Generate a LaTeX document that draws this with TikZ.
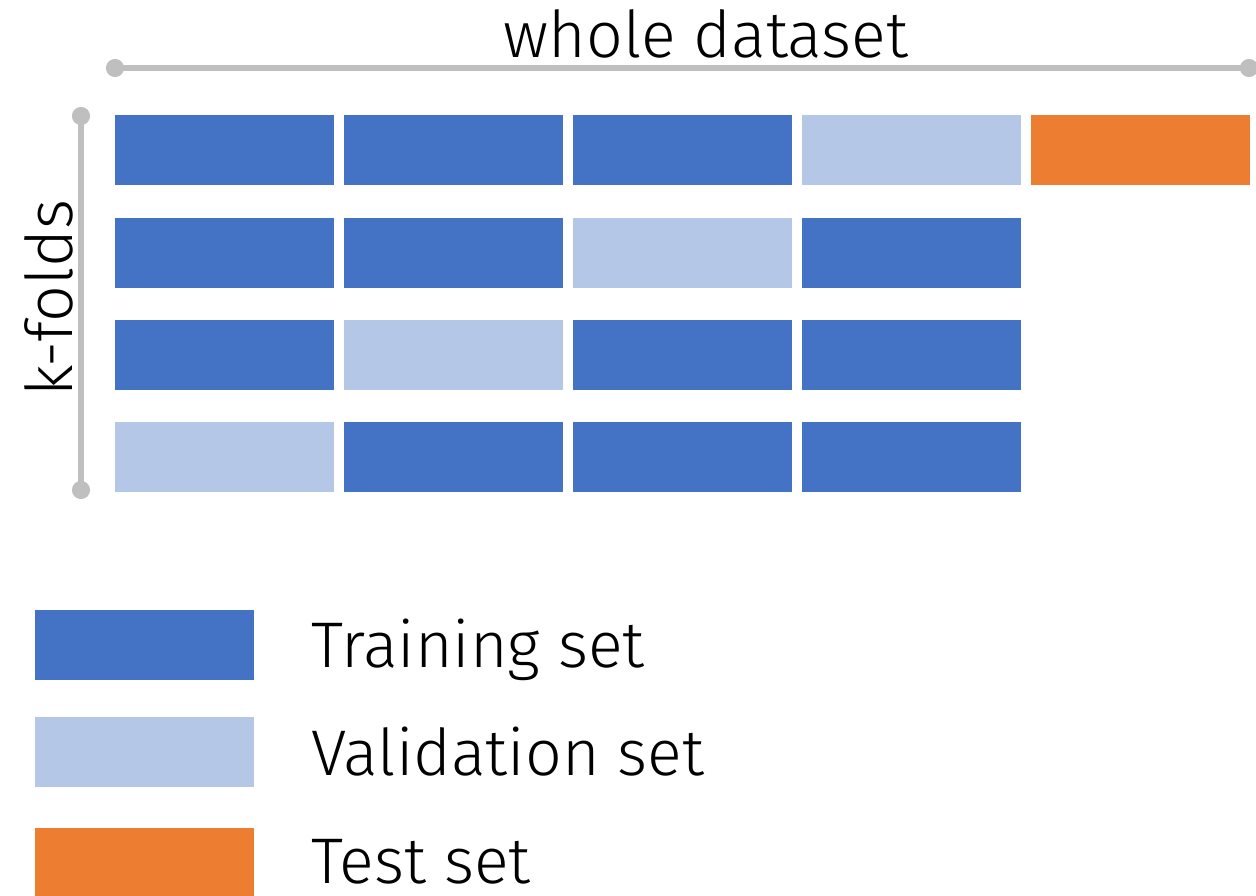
\documentclass[tikz,border=0pt]{standalone}
\usepackage{fontspec}
\setmainfont{Fira Sans Light}
\usepackage{tikz}
\usetikzlibrary{positioning, arrows.meta}
\definecolor{trainblue}{HTML}{4472C4}
\definecolor{validblue}{HTML}{B4C7E7}
\definecolor{testorange}{HTML}{ED7D31}
\definecolor{dimgray}{HTML}{BFBFBF}
\tikzset{
  fold/.style = {rectangle, minimum width=219pt, minimum height=70pt, inner sep=0pt, outer sep=0pt},
  train/.style = {fold, fill=trainblue},
  valid/.style = {fold, fill=validblue},
  test/.style = {fold, fill=testorange},
  dimline/.style = {line width=6pt, draw=dimgray, {Circle[length=18pt,fill=dimgray]}-{Circle[length=18pt,fill=dimgray]}},
  label/.style = {inner sep=0pt, font=\fontsize{64.5}{78}\selectfont}
}

\begin{document}
\begin{tikzpicture}[x=1pt, y=-1pt, node distance=10pt]
\useasboundingbox (0,0) rectangle (1256,896);

\node [train] (a1) at (224.5,150) {};
\node [train] (a2) [right=of a1] {};
\node [train] (a3) [right=of a2] {};
\node [valid] (a4) [right=of a3] {};
\node [test] (a5) [right=of a4] {};

\node [train] (b1) at (224.5,253) {};
\node [train] (b2) [right=of b1] {};
\node [valid] (b3) [right=of b2] {};
\node [train] (b4) [right=of b3] {};

\node [train] (c1) at (224.5,355) {};
\node [valid] (c2) [right=of c1] {};
\node [train] (c3) [right=of c2] {};
\node [train] (c4) [right=of c3] {};

\node [valid] (d1) at (224.5,457) {};
\node [train] (d2) [right=of d1] {};
\node [train] (d3) [right=of d2] {};
\node [train] (d4) [right=of d3] {};

\coordinate (w1) at (106,68);
\coordinate (w2) at (1258,68);
\coordinate (k1) at (81,107);
\coordinate (k2) at (81,499);
\draw [dimline] (w1) -- (w2);
\draw [dimline] (k1) -- (k2);

\node [label, anchor=base] (whole) at (706,58) {whole dataset};
\node [label, anchor=base, rotate=90] (kfolds) at (72,298) {k-folds};

\node [train] (ltrain) at (144.5,645) {};
\node [valid] (lvalid) at (144.5,752) {};
\node [test] (ltest) at (144.5,863) {};

\node [label, anchor=base west] (ttrain) at (311,667) {Training set};
\node [label, anchor=base west] (tvalid) at (311,775) {Validation set};
\node [label, anchor=base west] (ttest) at (311,883) {Test set};
\end{tikzpicture}
\end{document}
